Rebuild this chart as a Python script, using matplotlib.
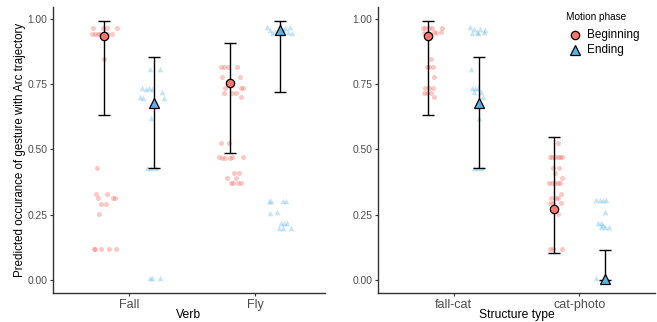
import matplotlib
matplotlib.use('Agg')
import matplotlib.pyplot as plt
from matplotlib.lines import Line2D

plt.rcParams['font.family'] = ['Liberation Sans', 'DejaVu Sans']

# ---------------- data ----------------
verbs = ['Fall', 'Fly']
structures = ['fall-cat', 'cat-photo']
phases = ['Beginning', 'Ending']
ytick_vals = [0.0, 0.25, 0.5, 0.75, 1.0]
ytick_labels = ['0.00', '0.25', '0.50', '0.75', '1.00']

# model means and 95% CI
verb_beg_mean = [0.936, 0.753]
verb_beg_lo = [0.631, 0.485]
verb_beg_hi = [0.991, 0.907]
verb_end_mean = [0.677, 0.958]
verb_end_lo = [0.428, 0.719]
verb_end_hi = [0.853, 0.992]

struct_beg_mean = [0.936, 0.272]
struct_beg_lo = [0.631, 0.102]
struct_beg_hi = [0.991, 0.549]
struct_end_mean = [0.677, 0.005]
struct_end_lo = [0.428, 0.0]
struct_end_hi = [0.853, 0.114]

# jittered raw predictions (value, horizontal jitter)
fall_beg_y = [0.967, 0.967, 0.967, 0.967, 0.943, 0.943, 0.943, 0.943, 0.943, 0.943,
              0.846, 0.428, 0.330, 0.330, 0.315, 0.315, 0.315, 0.290, 0.291, 0.254,
              0.119, 0.119, 0.119, 0.119, 0.119]
fall_beg_jit = [-0.083, -0.004, 0.023, 0.107, -0.091, -0.07, -0.048, -0.03, 0.023, 0.063,
                0.004, -0.052, -0.062, 0.025, -0.046, 0.075, 0.089, -0.022, 0.015, -0.04,
                -0.078, -0.07, -0.022, 0.041, 0.097]
fall_end_y = [0.808, 0.808, 0.736, 0.732, 0.736, 0.732, 0.721, 0.700, 0.697, 0.696,
              0.621, 0.428, 0.428, 0.428, 0.007, 0.007, 0.009]
fall_end_jit = [-0.031, 0.044, -0.099, -0.065, -0.039, -0.02, 0.062, -0.113, -0.087, 0.08,
                -0.025, -0.06, -0.025, 0.014, -0.031, -0.015, 0.048]
fly_beg_y = [0.815, 0.815, 0.815, 0.815, 0.779, 0.777, 0.734, 0.734, 0.734, 0.716,
             0.716, 0.716, 0.701, 0.526, 0.526, 0.471, 0.469, 0.469, 0.469, 0.471,
             0.471, 0.411, 0.411, 0.391, 0.391, 0.372, 0.372, 0.372, 0.372]
fly_beg_jit = [-0.072, -0.046, -0.012, 0.055, -0.062, 0.083, -0.038, 0.087, 0.107, -0.046,
               0.015, 0.049, 0.091, -0.072, -0.004, -0.083, -0.06, -0.038, 0.002, 0.015,
               0.102, 0.033, 0.073, -0.025, 0.047, 0.01, 0.028, 0.067, 0.091]
fly_end_y = [0.968, 0.958, 0.951, 0.964, 0.951, 0.968, 0.945, 0.946, 0.958,
             0.304, 0.304, 0.304, 0.304, 0.258, 0.261, 0.218, 0.218, 0.218,
             0.200, 0.200, 0.200]
fly_end_jit = [-0.107, -0.081, -0.041, 0.038, 0.064, 0.078, 0.091, -0.065, 0.022,
               -0.091, -0.073, 0.02, 0.046, -0.081, -0.028, 0.004, 0.03, 0.052,
               -0.007, 0.025, 0.083]

fallcat_beg_y = [0.967, 0.967, 0.967, 0.967, 0.966, 0.952, 0.945, 0.945, 0.945, 0.949,
                 0.846, 0.815, 0.815, 0.815, 0.778, 0.737, 0.737, 0.737, 0.718, 0.718,
                 0.718, 0.702]
fallcat_beg_jit = [-0.043, -0.025, 0.002, 0.028, 0.11, 0.041, -0.038, -0.011, 0.057, 0.102,
                   0.021, -0.011, 0.009, 0.036, 0.047, -0.027, 0.002, 0.036, -0.038, -0.011,
                   0.021, 0.041]
fallcat_end_y = [0.968, 0.961, 0.951, 0.961, 0.951, 0.945, 0.945, 0.958,
                 0.808, 0.737, 0.734, 0.737, 0.721, 0.719, 0.702, 0.620,
                 0.430, 0.430, 0.430]
fallcat_end_jit = [-0.067, -0.041, -0.014, 0.012, 0.038, -0.054, -0.002, 0.051,
                   -0.062, -0.054, -0.028, -0.002, -0.041, 0.02, 0.036, 0.004,
                   -0.036, -0.004, 0.028]
catphoto_beg_y = [0.526, 0.470, 0.470, 0.470, 0.470, 0.470, 0.470, 0.428, 0.428, 0.411,
                  0.389, 0.373, 0.373, 0.373, 0.373, 0.373, 0.330, 0.315, 0.315, 0.315,
                  0.294, 0.294, 0.294, 0.253, 0.119, 0.119, 0.119]
catphoto_beg_jit = [0.031, -0.035, -0.017, 0.005, 0.026, 0.044, 0.058, -0.009, 0.036, 0.005,
                    0.058, -0.043, -0.021, 0.005, 0.026, 0.047, 0.052, -0.027, 0.01, 0.031,
                    -0.035, -0.009, 0.052, 0.026, -0.035, -0.009, 0.058]
catphoto_end_y = [0.307, 0.307, 0.307, 0.307, 0.262, 0.218, 0.220, 0.211,
                  0.202, 0.202, 0.202, 0.007, 0.004]
catphoto_end_jit = [-0.066, -0.04, -0.013, 0.013, 0.0, -0.053, -0.032, -0.013,
                    -0.026, 0.006, 0.032, -0.066, 0.0]

# ---------------- style ----------------
RED = '#F8766D'
BLUE = '#56B4E9'
DODGE = 0.2
W, H = 657, 322

fig = plt.figure(figsize=(W / 100, H / 100), dpi=100)


def px_axes(left, top, right, bottom):
    return fig.add_axes([left / W, 1 - bottom / H, (right - left) / W, (bottom - top) / H])


def draw_panel(ax, cats, beg_pts, end_pts, beg_stats, end_stats, xlabel, xlim):
    for i, (ys, js) in enumerate(beg_pts):
        ax.scatter([i + 1 - DODGE + j for j in js], ys, s=13, color=RED, alpha=0.4,
                   linewidths=0, zorder=2)
    for i, (ys, js) in enumerate(end_pts):
        ax.scatter([i + 1 + DODGE + j for j in js], ys, s=16, marker='^', color=BLUE,
                   alpha=0.35, linewidths=0, zorder=2)
    xs_b = [i + 1 - DODGE for i in range(len(cats))]
    xs_e = [i + 1 + DODGE for i in range(len(cats))]
    for xs, (m, lo, hi), mk, col, ms in ((xs_b, beg_stats, 'o', RED, 6.0),
                                         (xs_e, end_stats, '^', BLUE, 7.0)):
        err = [[a - b for a, b in zip(m, lo)], [b - a for a, b in zip(m, hi)]]
        ax.errorbar(xs, m, yerr=err, fmt='none', ecolor='black', elinewidth=1.0,
                    capsize=4.0, capthick=1.0, zorder=3)
        ax.plot(xs, m, linestyle='none', marker=mk, markersize=ms, markerfacecolor=col,
                markeredgecolor='black', markeredgewidth=0.9, zorder=4)
    ax.set_xlim(*xlim)
    ax.set_ylim(-0.05, 1.046)
    ax.set_xticks([1, 2])
    ax.set_xticklabels(cats, fontsize=9, color='#4D4D4D')
    ax.set_yticks(ytick_vals)
    ax.set_yticklabels(ytick_labels, fontsize=7.4, color='#4D4D4D')
    ax.tick_params(axis='both', length=2.5, width=0.8, color='#333333')
    ax.tick_params(axis='x', pad=1.5)
    ax.tick_params(axis='y', pad=1.5)
    for s in ('top', 'right'):
        ax.spines[s].set_visible(False)
    for s in ('left', 'bottom'):
        ax.spines[s].set_color('#333333')
        ax.spines[s].set_linewidth(1.0)
    ax.set_xlabel(xlabel, fontsize=8.7, color='black')
    ax.xaxis.label.set_va('center')
    ax.xaxis.set_label_coords(0.5, -0.077)


ax1 = px_axes(53, 7, 325, 293)
draw_panel(ax1, verbs,
           [(fall_beg_y, fall_beg_jit), (fly_beg_y, fly_beg_jit)],
           [(fall_end_y, fall_end_jit), (fly_end_y, fly_end_jit)],
           (verb_beg_mean, verb_beg_lo, verb_beg_hi),
           (verb_end_mean, verb_end_lo, verb_end_hi),
           'Verb', (0.397, 2.556))
ax1.set_ylabel('Predicted occurance of gesture with Arc trajectory', fontsize=8.3)
ax1.yaxis.label.set_va('center')
ax1.yaxis.set_label_coords(-33 / 272, 0.5)

ax2 = px_axes(378, 7, 655, 293)
draw_panel(ax2, structures,
           [(fallcat_beg_y, fallcat_beg_jit), (catphoto_beg_y, catphoto_beg_jit)],
           [(fallcat_end_y, fallcat_end_jit), (catphoto_end_y, catphoto_end_jit)],
           (struct_beg_mean, struct_beg_lo, struct_beg_hi),
           (struct_end_mean, struct_end_lo, struct_end_hi),
           'Structure type', (0.4, 2.6))

# legend
fig.text(566 / W, 1 - 17 / H, 'Motion phase', fontsize=7.2, va='center', ha='left')
for k, (lab, mk, col, ms) in enumerate(((phases[0], 'o', RED, 6.0), (phases[1], '^', BLUE, 7.0))):
    yy = 1 - (35 + 15 * k) / H
    fig.add_artist(Line2D([575 / W], [yy], transform=fig.transFigure, linestyle='none',
                          marker=mk, markersize=ms, markerfacecolor=col,
                          markeredgecolor='black', markeredgewidth=0.9))
    fig.text(587 / W, yy, lab, fontsize=8.5, va='center', ha='left')

fig.savefig('out.png', dpi=100)
